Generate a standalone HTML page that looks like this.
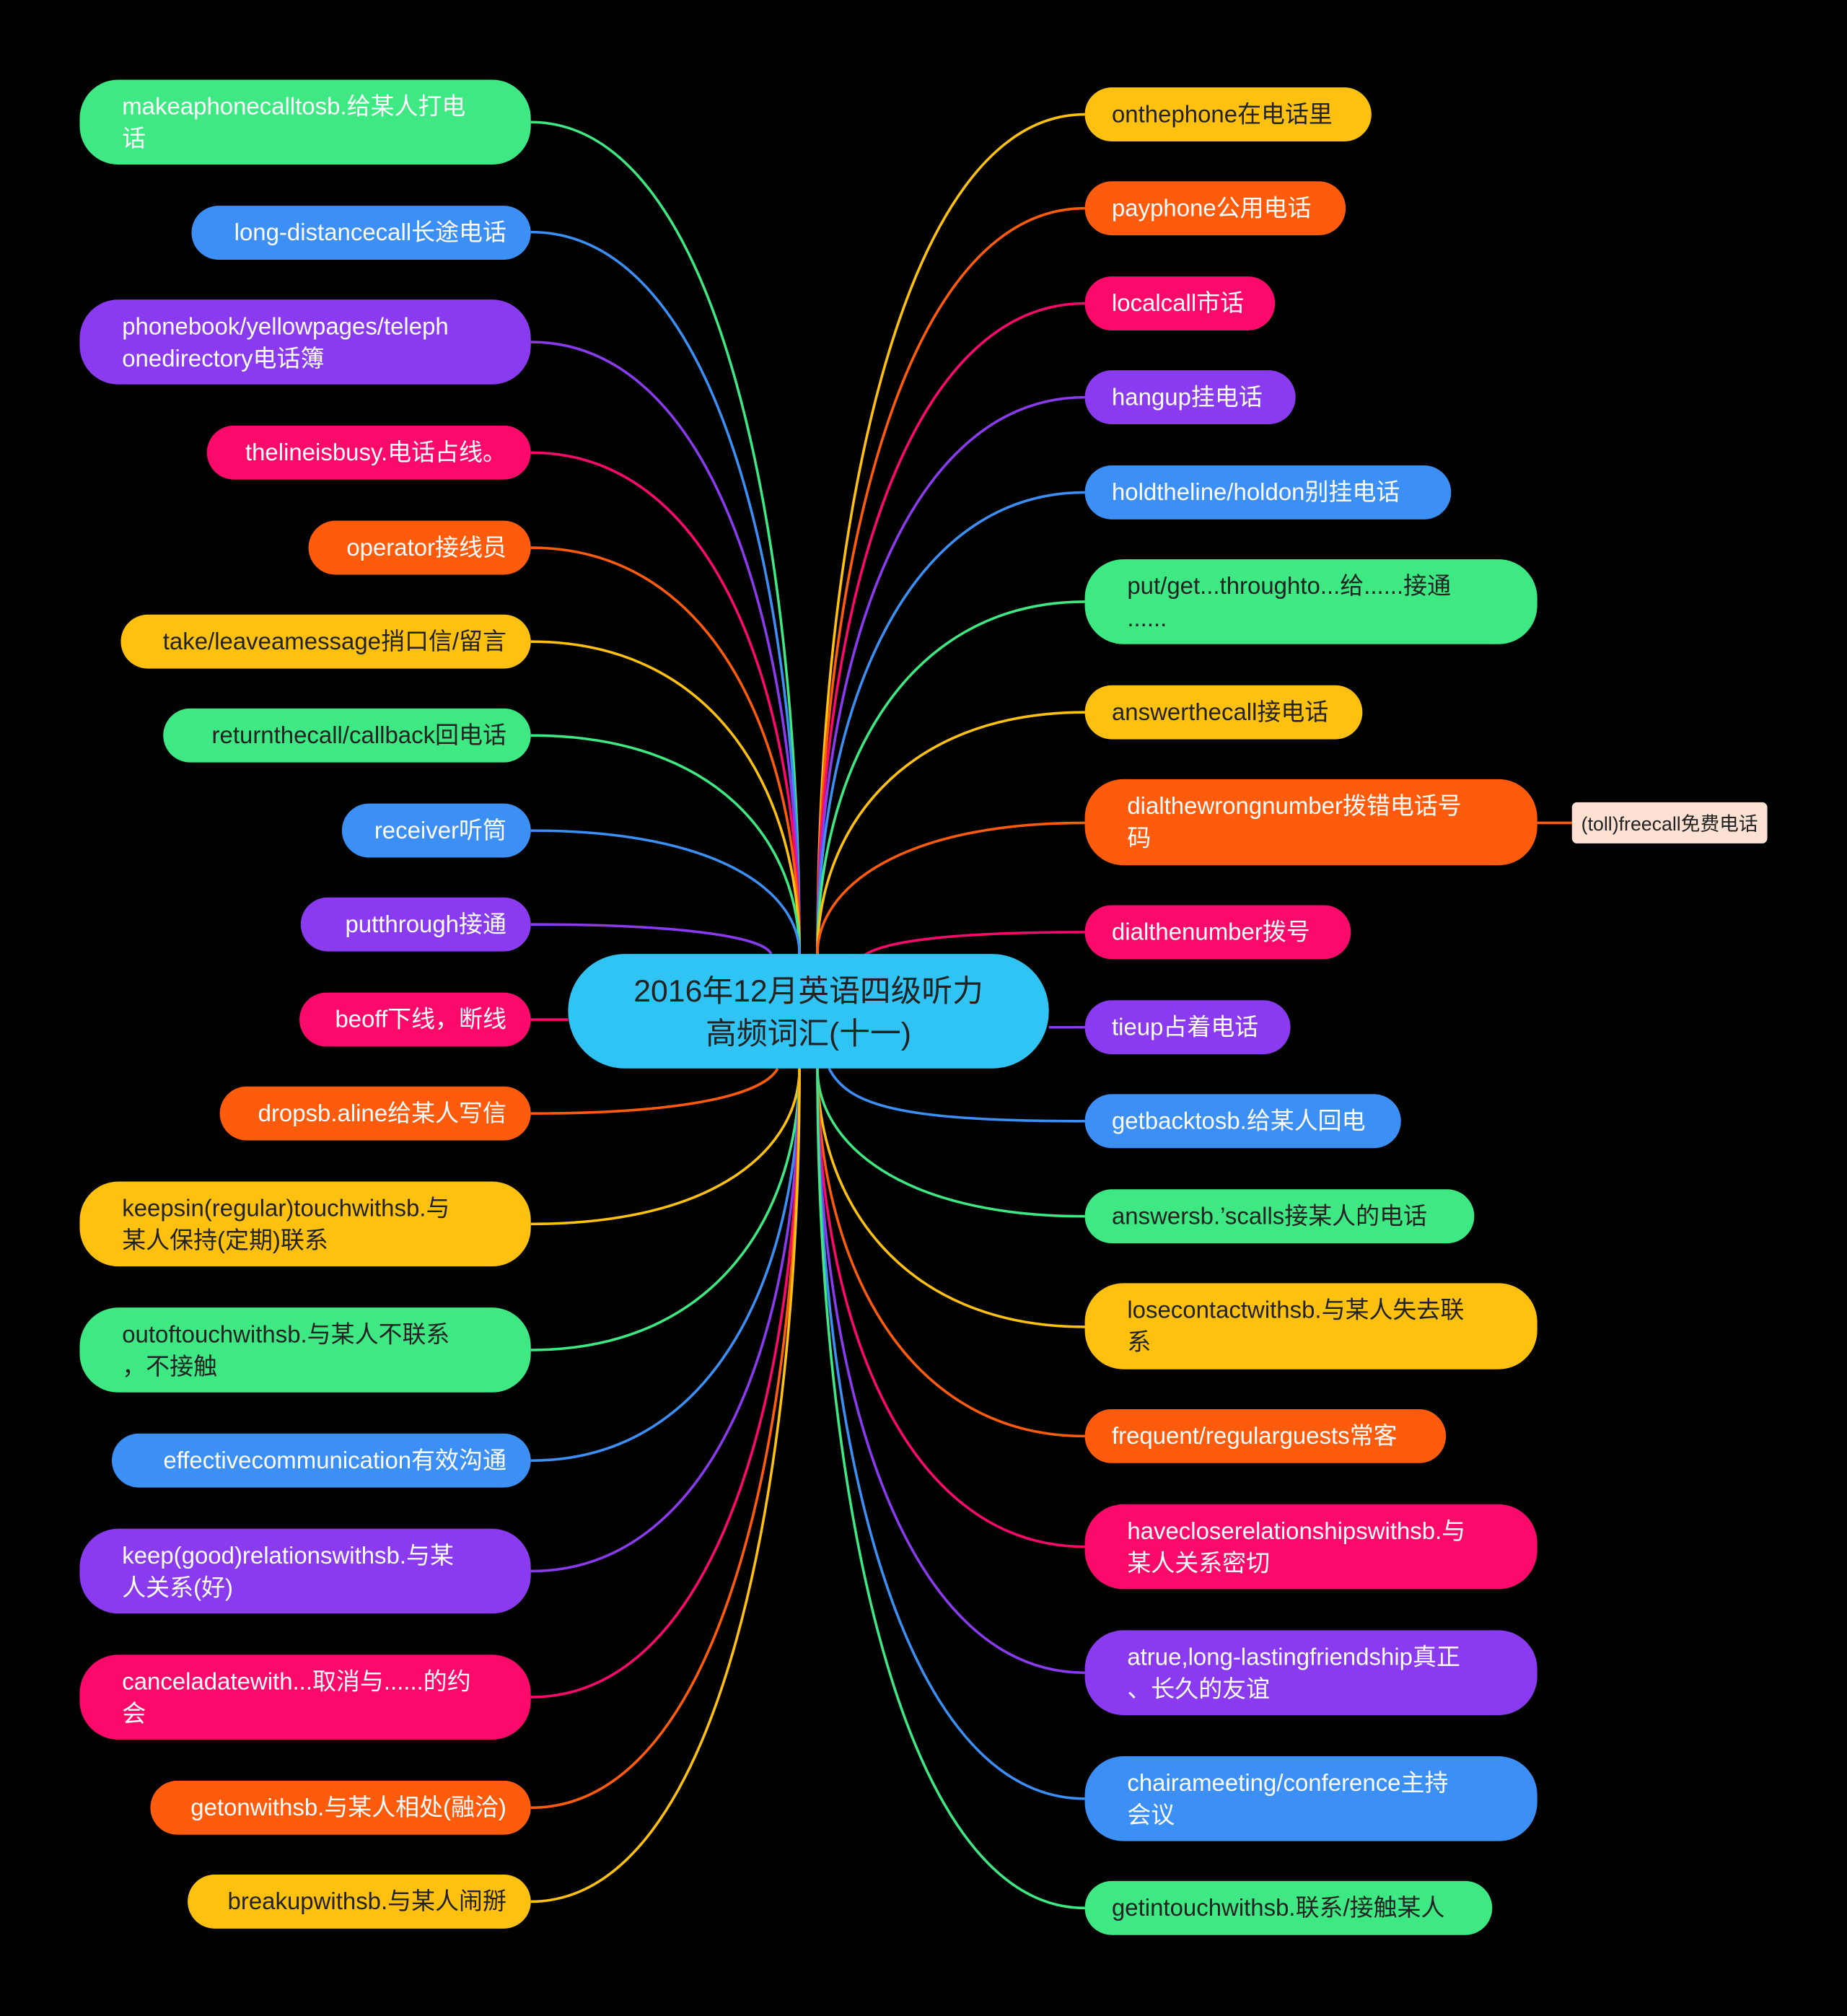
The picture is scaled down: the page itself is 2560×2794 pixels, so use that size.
<!DOCTYPE html>
<html><head><meta charset="utf-8"><style>
html,body{margin:0;padding:0;background:#000;}
svg{display:block}
text{font-family:"Liberation Sans","Noto Sans CJK SC",sans-serif;font-size:18.5px;fill:#fff}
</style></head><body>
<svg width="2560" height="2794" viewBox="0 0 1437 1568" preserveAspectRatio="none" xmlns="http://www.w3.org/2000/svg">
<rect width="1437" height="1568" fill="#000"/>
<g fill="none" stroke-width="2">
<path d="M413,95 C560,95 622,418.5 622,742" stroke="#3ee882"/>
<path d="M413,180.5 C560,180.5 622,461 622,742" stroke="#3b8ff5"/>
<path d="M413,266 C560,266 622,504 622,742" stroke="#8b3bef"/>
<path d="M413,352 C560,352 622,547 622,742" stroke="#fb0a6b"/>
<path d="M413,426 C560,426 622,584 622,742" stroke="#fe5b0c"/>
<path d="M413,499 C560,499 622,620.5 622,742" stroke="#fec110"/>
<path d="M413,572 C560,572 622,657 622,742" stroke="#3ee882"/>
<path d="M413,646 C560,646 622,694 622,742" stroke="#3b8ff5"/>
<path d="M413,719 C540,719 595,730 600,742" stroke="#8b3bef"/>
<path d="M413,793 L442,793" stroke="#fb0a6b"/>
<path d="M413,866 C540,866 595,850 605,831" stroke="#fe5b0c"/>
<path d="M413,952 C560,952 622,891.5 622,831" stroke="#fec110"/>
<path d="M413,1050 C560,1050 622,940.5 622,831" stroke="#3ee882"/>
<path d="M413,1136 C560,1136 622,983.5 622,831" stroke="#3b8ff5"/>
<path d="M413,1222 C560,1222 622,1026.5 622,831" stroke="#8b3bef"/>
<path d="M413,1320 C560,1320 622,1075.5 622,831" stroke="#fb0a6b"/>
<path d="M413,1406 C560,1406 622,1118.5 622,831" stroke="#fe5b0c"/>
<path d="M413,1479 C560,1479 622,1155 622,831" stroke="#fec110"/>

<path d="M844,89 C700,89 636,415.5 636,742" stroke="#fec110"/>
<path d="M844,162 C700,162 636,452 636,742" stroke="#fe5b0c"/>
<path d="M844,236 C700,236 636,489 636,742" stroke="#fb0a6b"/>
<path d="M844,309 C700,309 636,525.5 636,742" stroke="#8b3bef"/>
<path d="M844,383 C700,383 636,562.5 636,742" stroke="#3b8ff5"/>
<path d="M844,468 C700,468 636,605 636,742" stroke="#3ee882"/>
<path d="M844,554 C700,554 636,648 636,742" stroke="#fec110"/>
<path d="M844,640 C700,640 636,691 636,742" stroke="#fe5b0c"/>
<path d="M844,725 C720,725 680,735 670,745" stroke="#fb0a6b"/>
<path d="M816,799 L844,799" stroke="#8b3bef"/>
<path d="M844,872 C700,872 660,860 645,831" stroke="#3b8ff5"/>
<path d="M844,946 C700,946 636,888.5 636,831" stroke="#3ee882"/>
<path d="M844,1032 C700,1032 636,931.5 636,831" stroke="#fec110"/>
<path d="M844,1117 C700,1117 636,974 636,831" stroke="#fe5b0c"/>
<path d="M844,1203 C700,1203 636,1017 636,831" stroke="#fb0a6b"/>
<path d="M844,1301 C700,1301 636,1066 636,831" stroke="#8b3bef"/>
<path d="M844,1399 C700,1399 636,1115 636,831" stroke="#3b8ff5"/>
<path d="M844,1484 C700,1484 636,1157.5 636,831" stroke="#3ee882"/>
<path d="M1196,640 L1223,640" stroke="#fe5b0c"/>
</g>

<rect x="442" y="742" width="374" height="89" rx="44" fill="#2fc4f4"/>
<text x="629" y="779" text-anchor="middle" style="font-size:24px;fill:#222">2016年12月英语四级听力</text>
<text x="629" y="812" text-anchor="middle" style="font-size:24px;fill:#222">高频词汇(十一)</text>

<rect x="62" y="62" width="351" height="66" rx="30" fill="#3ee882"/>
<text x="95" y="89">makeaphonecalltosb.给某人打电</text><text x="95" y="114">话</text>
<rect x="149" y="160" width="264" height="42" rx="21" fill="#3b8ff5"/>
<text x="394" y="187" text-anchor="end">long-distancecall长途电话</text>
<rect x="62" y="233" width="351" height="66" rx="30" fill="#8b3bef"/>
<text x="95" y="260">phonebook/yellowpages/teleph</text><text x="95" y="285">onedirectory电话簿</text>
<rect x="161" y="331" width="252" height="42" rx="21" fill="#fb0a6b"/>
<text x="394" y="358" text-anchor="end">thelineisbusy.电话占线。</text>
<rect x="240" y="405" width="173" height="42" rx="21" fill="#fe5b0c"/>
<text x="394" y="432" text-anchor="end">operator接线员</text>
<rect x="94" y="478" width="319" height="42" rx="21" fill="#fec110"/>
<text x="394" y="505" text-anchor="end" style="fill:#222">take/leaveamessage捎口信/留言</text>
<rect x="127" y="551" width="286" height="42" rx="21" fill="#3ee882"/>
<text x="394" y="578" text-anchor="end" style="fill:#222">returnthecall/callback回电话</text>
<rect x="266" y="625" width="147" height="42" rx="21" fill="#3b8ff5"/>
<text x="394" y="652" text-anchor="end">receiver听筒</text>
<rect x="234" y="698" width="179" height="42" rx="21" fill="#8b3bef"/>
<text x="394" y="725" text-anchor="end">putthrough接通</text>
<rect x="233" y="772" width="180" height="42" rx="21" fill="#fb0a6b"/>
<text x="394" y="799" text-anchor="end">beoff下线，断线</text>
<rect x="171" y="845" width="242" height="42" rx="21" fill="#fe5b0c"/>
<text x="394" y="872" text-anchor="end">dropsb.aline给某人写信</text>
<rect x="62" y="919" width="351" height="66" rx="30" fill="#fec110"/>
<text x="95" y="946" style="fill:#222">keepsin(regular)touchwithsb.与</text><text x="95" y="971" style="fill:#222">某人保持(定期)联系</text>
<rect x="62" y="1017" width="351" height="66" rx="30" fill="#3ee882"/>
<text x="95" y="1044" style="fill:#222">outoftouchwithsb.与某人不联系</text><text x="95" y="1069" style="fill:#222">，不接触</text>
<rect x="87" y="1115" width="326" height="42" rx="21" fill="#3b8ff5"/>
<text x="394" y="1142" text-anchor="end">effectivecommunication有效沟通</text>
<rect x="62" y="1189" width="351" height="66" rx="30" fill="#8b3bef"/>
<text x="95" y="1216">keep(good)relationswithsb.与某</text><text x="95" y="1241">人关系(好)</text>
<rect x="62" y="1287" width="351" height="66" rx="30" fill="#fb0a6b"/>
<text x="95" y="1314">canceladatewith...取消与......的约</text><text x="95" y="1339">会</text>
<rect x="117" y="1385" width="296" height="42" rx="21" fill="#fe5b0c"/>
<text x="394" y="1412" text-anchor="end">getonwithsb.与某人相处(融洽)</text>
<rect x="146" y="1458" width="267" height="42" rx="21" fill="#fec110"/>
<text x="394" y="1485" text-anchor="end" style="fill:#222">breakupwithsb.与某人闹掰</text>

<rect x="844" y="68" width="223" height="42" rx="21" fill="#fec110"/>
<text x="865" y="95" style="fill:#222">onthephone在电话里</text>
<rect x="844" y="141" width="203" height="42" rx="21" fill="#fe5b0c"/>
<text x="865" y="168">payphone公用电话</text>
<rect x="844" y="215" width="148" height="42" rx="21" fill="#fb0a6b"/>
<text x="865" y="242">localcall市话</text>
<rect x="844" y="288" width="164" height="42" rx="21" fill="#8b3bef"/>
<text x="865" y="315">hangup挂电话</text>
<rect x="844" y="362" width="285" height="42" rx="21" fill="#3b8ff5"/>
<text x="865" y="389">holdtheline/holdon别挂电话</text>
<rect x="844" y="435" width="352" height="66" rx="30" fill="#3ee882"/>
<text x="877" y="462" style="fill:#222">put/get...throughto...给......接通</text><text x="877" y="487" style="fill:#222">......</text>
<rect x="844" y="533" width="216" height="42" rx="21" fill="#fec110"/>
<text x="865" y="560" style="fill:#222">answerthecall接电话</text>
<rect x="844" y="606" width="352" height="67" rx="30" fill="#fe5b0c"/>
<text x="877" y="633">dialthewrongnumber拨错电话号</text><text x="877" y="658">码</text>
<rect x="1223" y="624" width="152" height="32" rx="4" fill="#fde2d4"/>
<text x="1299" y="646" text-anchor="middle" style="font-size:15px;fill:#222">(toll)freecall免费电话</text>
<rect x="844" y="704" width="207" height="42" rx="21" fill="#fb0a6b"/>
<text x="865" y="731">dialthenumber拨号</text>
<rect x="844" y="778" width="160" height="42" rx="21" fill="#8b3bef"/>
<text x="865" y="805">tieup占着电话</text>
<rect x="844" y="851" width="246" height="42" rx="21" fill="#3b8ff5"/>
<text x="865" y="878">getbacktosb.给某人回电</text>
<rect x="844" y="925" width="303" height="42" rx="21" fill="#3ee882"/>
<text x="865" y="952" style="fill:#222">answersb.’scalls接某人的电话</text>
<rect x="844" y="998" width="352" height="67" rx="30" fill="#fec110"/>
<text x="877" y="1025" style="fill:#222">losecontactwithsb.与某人失去联</text><text x="877" y="1050" style="fill:#222">系</text>
<rect x="844" y="1096" width="281" height="42" rx="21" fill="#fe5b0c"/>
<text x="865" y="1123">frequent/regularguests常客</text>
<rect x="844" y="1170" width="352" height="66" rx="30" fill="#fb0a6b"/>
<text x="877" y="1197">havecloserelationshipswithsb.与</text><text x="877" y="1222">某人关系密切</text>
<rect x="844" y="1268" width="352" height="66" rx="30" fill="#8b3bef"/>
<text x="877" y="1295">atrue,long-lastingfriendship真正</text><text x="877" y="1320">、长久的友谊</text>
<rect x="844" y="1366" width="352" height="66" rx="30" fill="#3b8ff5"/>
<text x="877" y="1393">chairameeting/conference主持</text><text x="877" y="1418">会议</text>
<rect x="844" y="1463" width="317" height="42" rx="21" fill="#3ee882"/>
<text x="865" y="1490" style="fill:#222">getintouchwithsb.联系/接触某人</text>
</svg>
</body></html>
